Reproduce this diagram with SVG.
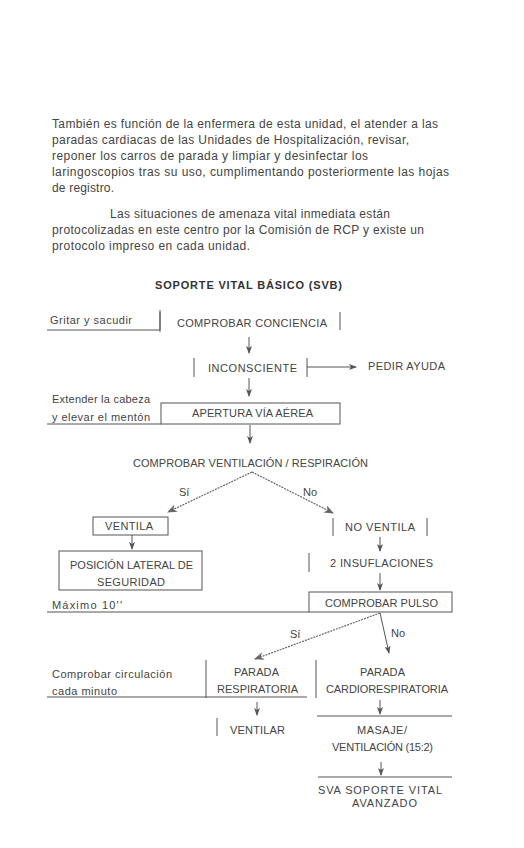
<svg xmlns="http://www.w3.org/2000/svg" width="524" height="848" viewBox="0 0 524 848">
<style>
text{font-family:"Liberation Sans",Arial,sans-serif;fill:#444}
.p{font-size:12px}
.l{font-size:11px}
.t{font-size:11px;font-weight:bold;fill:#333}
.ln{stroke:#555;stroke-width:1;fill:none}
.ar{stroke:#555;stroke-width:1;fill:none;marker-end:url(#ah)}
.dg{stroke:#666;stroke-width:1.2;fill:none;stroke-dasharray:2 1;marker-end:url(#ah2)}
</style>
<defs>
<marker id="ah" markerUnits="userSpaceOnUse" markerWidth="8" markerHeight="6" refX="7" refY="3" orient="auto"><path d="M0,0 L8,3 L0,6 L2,3 z" fill="#555"/></marker>
<marker id="ah2" markerUnits="userSpaceOnUse" markerWidth="10" markerHeight="8" refX="9" refY="4" orient="auto"><path d="M0,0 L10,4 L0,8 L3,4 z" fill="#666"/></marker>
</defs>
<rect width="524" height="848" fill="#fff"/>
<g id="paragraph">
<text class="p" x="52" y="128" textLength="386">También es función de la enfermera de esta unidad, el atender a las</text>
<text class="p" x="52" y="144" textLength="357">paradas cardiacas de las Unidades de Hospitalización, revisar,</text>
<text class="p" x="52" y="160" textLength="316">reponer los carros de parada y limpiar y desinfectar los</text>
<text class="p" x="52" y="176" textLength="397">laringoscopios tras su uso, cumplimentando posteriormente las hojas</text>
<text class="p" x="52" y="192" textLength="62">de registro.</text>
<text class="p" x="110" y="218" textLength="280">Las situaciones de amenaza vital inmediata están</text>
<text class="p" x="52" y="234" textLength="372">protocolizadas en este centro por la Comisión de RCP y existe un</text>
<text class="p" x="52" y="250" textLength="198">protocolo impreso en cada unidad.</text>
</g>
<g id="title"><text class="t" x="155" y="289" textLength="187">SOPORTE VITAL BÁSICO (SVB)</text></g>
<g id="connectors">
<path class="ar" d="M249,337 V353"/>
<path class="ar" d="M307,367 H356"/>
<path class="ar" d="M249,378 V396"/>
<path class="ar" d="M250,425 V443"/>
<path class="dg" d="M252,472 L168,512"/>
<path class="dg" d="M252,472 L333,513"/>
<path class="ar" d="M132,535 V549"/>
<path class="ar" d="M380,537 V551"/>
<path class="ar" d="M380,573 V590"/>
<path class="dg" d="M380,613 L255,659"/>
<path class="ar" d="M380,613 L389,653"/>
<path class="ar" d="M257,702 V715"/>
<path class="ar" d="M380,700 V714"/>
<path class="ar" d="M381,762 V775"/>
</g>
<g id="gritar">
<path class="ln" d="M47,330 H160 V310"/>
<text class="l" x="50" y="324" textLength="82">Gritar y sacudir</text>
</g>
<g id="comprobar-conciencia">
<path class="ln" d="M160,312 V332 M340,312 V330"/>
<text class="l" x="177" y="327" textLength="150">COMPROBAR CONCIENCIA</text>
</g>
<g id="inconsciente">
<path class="ln" d="M194,358 V377 M307,358 V377"/>
<text class="l" x="208" y="372" textLength="89">INCONSCIENTE</text>
</g>
<g id="pedir-ayuda"><text class="l" x="368" y="370" textLength="77">PEDIR AYUDA</text></g>
<g id="extender">
<path class="ln" d="M47,424 H161"/>
<text class="l" x="52" y="403" textLength="98">Extender la cabeza</text>
<text class="l" x="52" y="421" textLength="98">y elevar el mentón</text>
</g>
<g id="apertura">
<rect class="ln" x="161" y="403" width="179" height="21"/>
<text class="l" x="192" y="417" textLength="121">APERTURA VÍA AÉREA</text>
</g>
<g id="comprobar-ventilacion"><text class="l" x="133" y="467" textLength="235">COMPROBAR VENTILACIÓN / RESPIRACIÓN</text></g>
<g id="labels-si-no">
<text class="l" x="179" y="496">Sí</text>
<text class="l" x="303" y="496">No</text>
<text class="l" x="290" y="638">Sí</text>
<text class="l" x="391" y="637">No</text>
</g>
<g id="ventila">
<rect class="ln" x="93" y="517" width="75" height="18"/>
<text class="l" x="105" y="530" textLength="48">VENTILA</text>
</g>
<g id="posicion">
<rect class="ln" x="59" y="551" width="143" height="39"/>
<text class="l" x="70" y="569" textLength="123">POSICIÓN LATERAL DE</text>
<text class="l" x="97" y="586" textLength="68">SEGURIDAD</text>
</g>
<g id="no-ventila">
<path class="ln" d="M333,518 V536 M427,518 V536"/>
<text class="l" x="345" y="531" textLength="70">NO VENTILA</text>
</g>
<g id="insuflaciones">
<path class="ln" d="M309,553 V572"/>
<text class="l" x="330" y="567" textLength="103">2 INSUFLACIONES</text>
</g>
<g id="comprobar-pulso">
<rect class="ln" x="309" y="592" width="143" height="20"/>
<text class="l" x="325" y="607" textLength="113">COMPROBAR PULSO</text>
</g>
<g id="maximo">
<path class="ln" d="M47,612 H309"/>
<text class="l" x="52" y="609" textLength="70">Máximo 10''</text>
</g>
<g id="comprobar-circulacion">
<path class="ln" d="M47,697 H307"/>
<text class="l" x="52" y="678" textLength="120">Comprobar circulación</text>
<text class="l" x="52" y="695" textLength="65">cada minuto</text>
</g>
<g id="parada-respiratoria">
<path class="ln" d="M206,660 V698"/>
<text class="l" x="234" y="676" textLength="45">PARADA</text>
<text class="l" x="217" y="693" textLength="81">RESPIRATORIA</text>
</g>
<g id="parada-cardiorespiratoria">
<path class="ln" d="M316,660 V698"/>
<text class="l" x="360" y="676" textLength="45">PARADA</text>
<text class="l" x="326" y="693" textLength="122">CARDIORESPIRATORIA</text>
</g>
<g id="ventilar">
<path class="ln" d="M217,718 V736"/>
<text class="l" x="230" y="734" textLength="55">VENTILAR</text>
</g>
<g id="masaje">
<path class="ln" d="M317,716 H452"/>
<text class="l" x="357" y="734" textLength="50">MASAJE/</text>
<text class="l" x="332" y="751" textLength="101">VENTILACIÓN (15:2)</text>
</g>
<g id="sva">
<path class="ln" d="M318,777 H452"/>
<text class="l" x="318" y="794" textLength="124">SVA SOPORTE VITAL</text>
<text class="l" x="352" y="807" textLength="65">AVANZADO</text>
</g>
</svg>
